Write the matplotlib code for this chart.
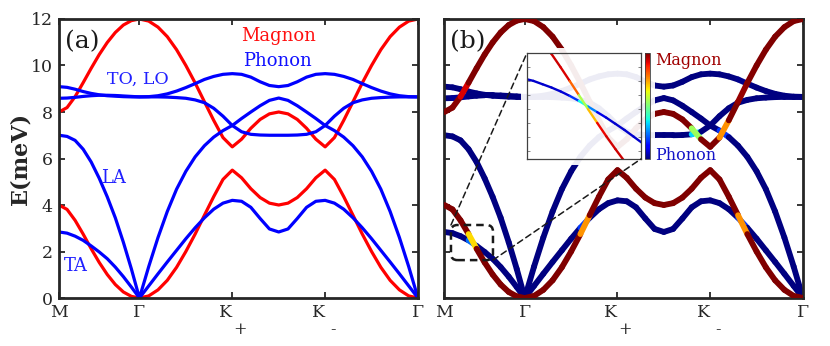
import numpy as np
import matplotlib
matplotlib.use("Agg")
import matplotlib.pyplot as plt
from matplotlib.collections import LineCollection
from matplotlib.patches import Rectangle, FancyBboxPatch, ConnectionPatch
from matplotlib.colorbar import ColorbarBase
from matplotlib.colors import Normalize

plt.rcParams['font.family'] = 'DejaVu Serif'
plt.rcParams['mathtext.fontset'] = 'dejavuserif'

# path M -> Gamma -> K+ -> K- -> Gamma (units of |Gamma M|)
k_path = [0.0, 0.1, 0.2, 0.3, 0.4, 0.5, 0.6, 0.7, 0.8, 0.9, 1.0,
          1.1155, 1.2309, 1.3464, 1.4619, 1.5774, 1.6928, 1.8083, 1.9238, 2.0392, 2.1547,
          2.2702, 2.3856, 2.5011, 2.6166, 2.7321, 2.8475, 2.9630, 3.0785, 3.1940, 3.3094,
          3.4249, 3.5404, 3.6559, 3.7713, 3.8868, 4.0023, 4.1177, 4.2332, 4.3487, 4.4641]
k_nodes = [0.0, 1.0, 2.1547, 3.3094, 4.4641]
node_labels = ['M', 'Γ', 'K', 'K', 'Γ']
node_subs = ['', '', '+', '-', '']
e_ticks = [0, 2, 4, 6, 8, 10, 12]

magnon_low = [4.00, 3.81, 3.34, 2.75, 2.12, 1.53, 1.01, 0.58, 0.26, 0.07, 0.00,
              0.09, 0.35, 0.76, 1.32, 2.00, 2.75, 3.56, 4.36, 5.10, 5.50,
              5.17, 4.70, 4.32, 4.08, 4.00, 4.08, 4.32, 4.70, 5.17, 5.50,
              5.10, 4.36, 3.56, 2.75, 2.00, 1.32, 0.76, 0.35, 0.09, 0.00]
magnon_up = [8.00, 8.19, 8.66, 9.26, 9.88, 10.47, 10.99, 11.42, 11.74, 11.93, 12.00,
             11.91, 11.65, 11.24, 10.68, 10.00, 9.25, 8.44, 7.64, 6.90, 6.50,
             6.83, 7.30, 7.68, 7.92, 8.00, 7.92, 7.68, 7.30, 6.83, 6.50,
             6.90, 7.64, 8.44, 9.25, 10.00, 10.68, 11.24, 11.65, 11.91, 12.00]
ph_ta = [2.84, 2.79, 2.66, 2.48, 2.24, 1.98, 1.69, 1.33, 0.92, 0.47, 0.00,
         0.52, 1.04, 1.55, 2.05, 2.55, 3.02, 3.45, 3.82, 4.08, 4.20,
         4.16, 3.90, 3.42, 2.97, 2.84, 2.97, 3.42, 3.90, 4.16, 4.20,
         4.08, 3.82, 3.45, 3.02, 2.55, 2.05, 1.55, 1.04, 0.52, 0.00]
ph_la = [7.00, 6.95, 6.78, 6.40, 5.85, 5.15, 4.35, 3.45, 2.40, 1.25, 0.00,
         1.35, 2.60, 3.72, 4.68, 5.45, 6.07, 6.55, 6.92, 7.20, 7.42,
         7.72, 8.00, 8.27, 8.50, 8.60, 8.50, 8.27, 8.00, 7.72, 7.42,
         7.20, 6.92, 6.55, 6.07, 5.45, 4.68, 3.72, 2.60, 1.35, 0.00]
ph_lo = [8.59, 8.60, 8.63, 8.67, 8.70, 8.72, 8.72, 8.71, 8.69, 8.67, 8.65,
         8.65, 8.65, 8.64, 8.62, 8.59, 8.52, 8.40, 8.16, 7.82, 7.42,
         7.15, 7.04, 7.01, 7.00, 7.00, 7.00, 7.01, 7.04, 7.15, 7.42,
         7.82, 8.16, 8.40, 8.52, 8.59, 8.62, 8.64, 8.65, 8.65, 8.65]
ph_to = [9.09, 9.06, 8.98, 8.88, 8.80, 8.74, 8.70, 8.68, 8.66, 8.65, 8.65,
         8.66, 8.70, 8.78, 8.90, 9.05, 9.22, 9.40, 9.53, 9.62, 9.65,
         9.62, 9.50, 9.30, 9.14, 9.09, 9.14, 9.30, 9.50, 9.62, 9.65,
         9.62, 9.53, 9.40, 9.22, 9.05, 8.90, 8.78, 8.70, 8.66, 8.65]

# magnon-phonon hybridization spots shown in (b), k position per branch
spots = {
    'magnon_low': [0.369, 1.775, 3.689],
    'magnon_up': [0.21, 3.130, 3.458, 3.767],
    'TA': [0.369, 1.775, 3.689],
    'LA': [3.458],
    'LO': [0.20, 3.130],
    'TO': [3.767],
}

# zoomed region (inset)
inset_k = [0.10, 0.14, 0.18, 0.22, 0.26, 0.30, 0.34, 0.38, 0.42, 0.46, 0.50, 0.54, 0.58, 0.62]
inset_magnon = [3.813, 3.650, 3.452, 3.230, 2.992, 2.745, 2.494, 2.243, 1.998, 1.758, 1.528, 1.309, 1.103, 0.912]
inset_ta = [2.79, 2.75, 2.69, 2.63, 2.56, 2.48, 2.39, 2.29, 2.19, 2.09, 1.98, 1.87, 1.75, 1.63]
inset_cross = 0.367
inset_klim = (0.112, 0.612)
inset_elim = (1.35, 3.25)
zoom_box_k = (0.081, 0.604)
zoom_box_e = (1.63, 3.14)

phonons = [('TA', ph_ta), ('LA', ph_la), ('LO', ph_lo), ('TO', ph_to)]
magnons = [('magnon_low', magnon_low), ('magnon_up', magnon_up)]
dark = '#262626'


def segments(k, e):
    pts = np.column_stack([k, e])
    return np.stack([pts[:-1], pts[1:]], axis=1)


def spot_colors(k, base, target, centers, width):
    k = np.asarray(k)
    mid = 0.5 * (k[:-1] + k[1:])
    c = np.full(mid.shape, base, dtype=float)
    for kc in centers:
        c = c + (target - base) * np.exp(-((mid - kc) / width) ** 2)
    return plt.cm.jet(np.clip(c, 0, 1))


def style_axes(ax, ylabels=True):
    ax.set_xlim(k_nodes[0], k_nodes[-1])
    ax.set_ylim(0, 12)
    ax.set_yticks(e_ticks)
    ax.set_xticks(k_nodes)
    ax.set_xticklabels(node_labels)
    for lab, sub in zip(ax.get_xticklabels(), node_subs):
        if sub:
            lab.set_horizontalalignment('right')
    if not ylabels:
        ax.set_yticklabels([])
    ax.tick_params(direction='in', top=True, right=True, length=4, width=1.3,
                   colors=dark, labelsize=12.5, pad=4.5)
    for sp in ax.spines.values():
        sp.set_linewidth(2.0)
        sp.set_color(dark)
    for k, sub in zip(k_nodes, node_subs):
        if sub:
            ax.annotate(sub, xy=(k, 0), xycoords=('data', 'axes fraction'),
                        xytext=(5.5, -22.5), textcoords='offset points',
                        ha='center', va='center', fontsize=11.5, color=dark,
                        annotation_clip=False)


fig = plt.figure(figsize=(8.3, 3.46), dpi=100)
ax_a = fig.add_axes([0.0711, 0.1387, 0.4325, 0.8064])
ax_b = fig.add_axes([0.5355, 0.1387, 0.4319, 0.8064])

# (a) bare dispersions
for name, e in magnons:
    ax_a.plot(k_path, e, color='#ff0000', lw=2.3, zorder=2)
for name, e in phonons:
    ax_a.plot(k_path, e, color='#0000ff', lw=2.3, zorder=2)
style_axes(ax_a)
ax_a.set_ylabel('E(meV)', fontsize=16, fontweight='bold', color=dark)
ax_a.yaxis.set_label_coords(-0.076, 0.5)
ax_a.text(0.0655, 0.895, '(a)', transform=ax_a.transAxes, ha='center', va='baseline', fontsize=18, color='#1a1a1a')
ax_a.text(0.611, 0.922, 'Magnon', transform=ax_a.transAxes, ha='center', va='baseline', fontsize=13, color='#ff1010')
ax_a.text(0.609, 0.833, 'Phonon', transform=ax_a.transAxes, ha='center', va='baseline', fontsize=13, color='#1010ff')
ax_a.text(0.220, 0.767, 'TO, LO', transform=ax_a.transAxes, ha='center', va='baseline', fontsize=12.5, color='#2020ff')
ax_a.text(0.153, 0.411, 'LA', transform=ax_a.transAxes, ha='center', va='baseline', fontsize=13, color='#2020ff')
ax_a.text(0.0465, 0.098, 'TA', transform=ax_a.transAxes, ha='center', va='baseline', fontsize=13, color='#2020ff')

# (b) hybridized, coloured by magnon/phonon weight
for name, e in phonons:
    lc = LineCollection(segments(k_path, e), colors=spot_colors(k_path, 0.0, 0.35, spots[name], 0.03),
                        linewidths=4.2, capstyle='round', joinstyle='round', zorder=2)
    ax_b.add_collection(lc)
for name, e in magnons:
    lc = LineCollection(segments(k_path, e), colors=spot_colors(k_path, 1.0, 0.52, spots[name], 0.03),
                        linewidths=4.2, capstyle='round', joinstyle='round', zorder=3)
    ax_b.add_collection(lc)
style_axes(ax_b, ylabels=False)
ax_b.text(0.0647, 0.895, '(b)', transform=ax_b.transAxes, ha='center', va='baseline', fontsize=18, color='#1a1a1a')
ax_b.add_patch(FancyBboxPatch((zoom_box_k[0], zoom_box_e[0]), zoom_box_k[1] - zoom_box_k[0],
                              zoom_box_e[1] - zoom_box_e[0],
                              boxstyle='round,pad=0,rounding_size=0.08', mutation_aspect=3.45,
                              fill=False, ls=(0, (3, 2)), lw=1.8, ec='#1a1a1a', zorder=6))

# veil behind the inset (lines show through faintly)
veil = Rectangle((521 / 830, 181 / 346), 134 / 830, 117 / 346, transform=fig.transFigure,
                 facecolor='white', edgecolor='none', alpha=0.93, zorder=0.5)
fig.add_artist(veil)

# inset
ax_in = fig.add_axes([0.6349, 0.5405, 0.1373, 0.3064])
ax_in.set_zorder(1)
ax_in.set_facecolor('none')
ax_in.add_collection(LineCollection(segments(inset_k, inset_ta),
                                    colors=spot_colors(inset_k, 0.07, 0.38, [inset_cross], 0.045),
                                    linewidths=1.7, capstyle='round'))
ax_in.add_collection(LineCollection(segments(inset_k, inset_magnon),
                                    colors=spot_colors(inset_k, 0.93, 0.55, [inset_cross], 0.045),
                                    linewidths=1.7, capstyle='round'))
ax_in.set_xlim(*inset_klim)
ax_in.set_ylim(*inset_elim)
ax_in.set_xticks([])
ax_in.set_yticks([1.5, 1.75, 2.0, 2.25, 2.5, 2.75, 3.0])
ax_in.set_yticklabels([])
ax_in.tick_params(axis='y', direction='in', left=True, right=True, length=2.5, width=0.6, colors='#707070')
for sp in ax_in.spines.values():
    sp.set_linewidth(0.9)
    sp.set_color('#404040')

ax_cb = fig.add_axes([0.7771, 0.5405, 0.0060, 0.3064])
ax_cb.set_zorder(1)
cb = ColorbarBase(ax_cb, cmap=plt.cm.jet, norm=Normalize(0, 1), orientation='vertical')
cb.set_ticks([])
cb.outline.set_linewidth(0.6)
cb.outline.set_edgecolor('#404040')

fig.text(655 / 830, (346 - 65) / 346, 'Magnon', ha='left', va='baseline', fontsize=11.5, color='#a00000', zorder=3)
fig.text(655 / 830, (346 - 160) / 346, 'Phonon', ha='left', va='baseline', fontsize=11.5, color='#1414c8', zorder=3)

for xyA, xyB in [((zoom_box_k[0], zoom_box_e[1]), (0, 1)), ((zoom_box_k[1], zoom_box_e[0]), (1, 0))]:
    con = ConnectionPatch(xyA=xyA, coordsA=ax_b.transData, xyB=xyB, coordsB=ax_in.transAxes,
                          ls=(0, (4, 2.5)), lw=1.1, color='#1a1a1a', zorder=3)
    fig.add_artist(con)

fig.savefig('out.png', dpi=100)
